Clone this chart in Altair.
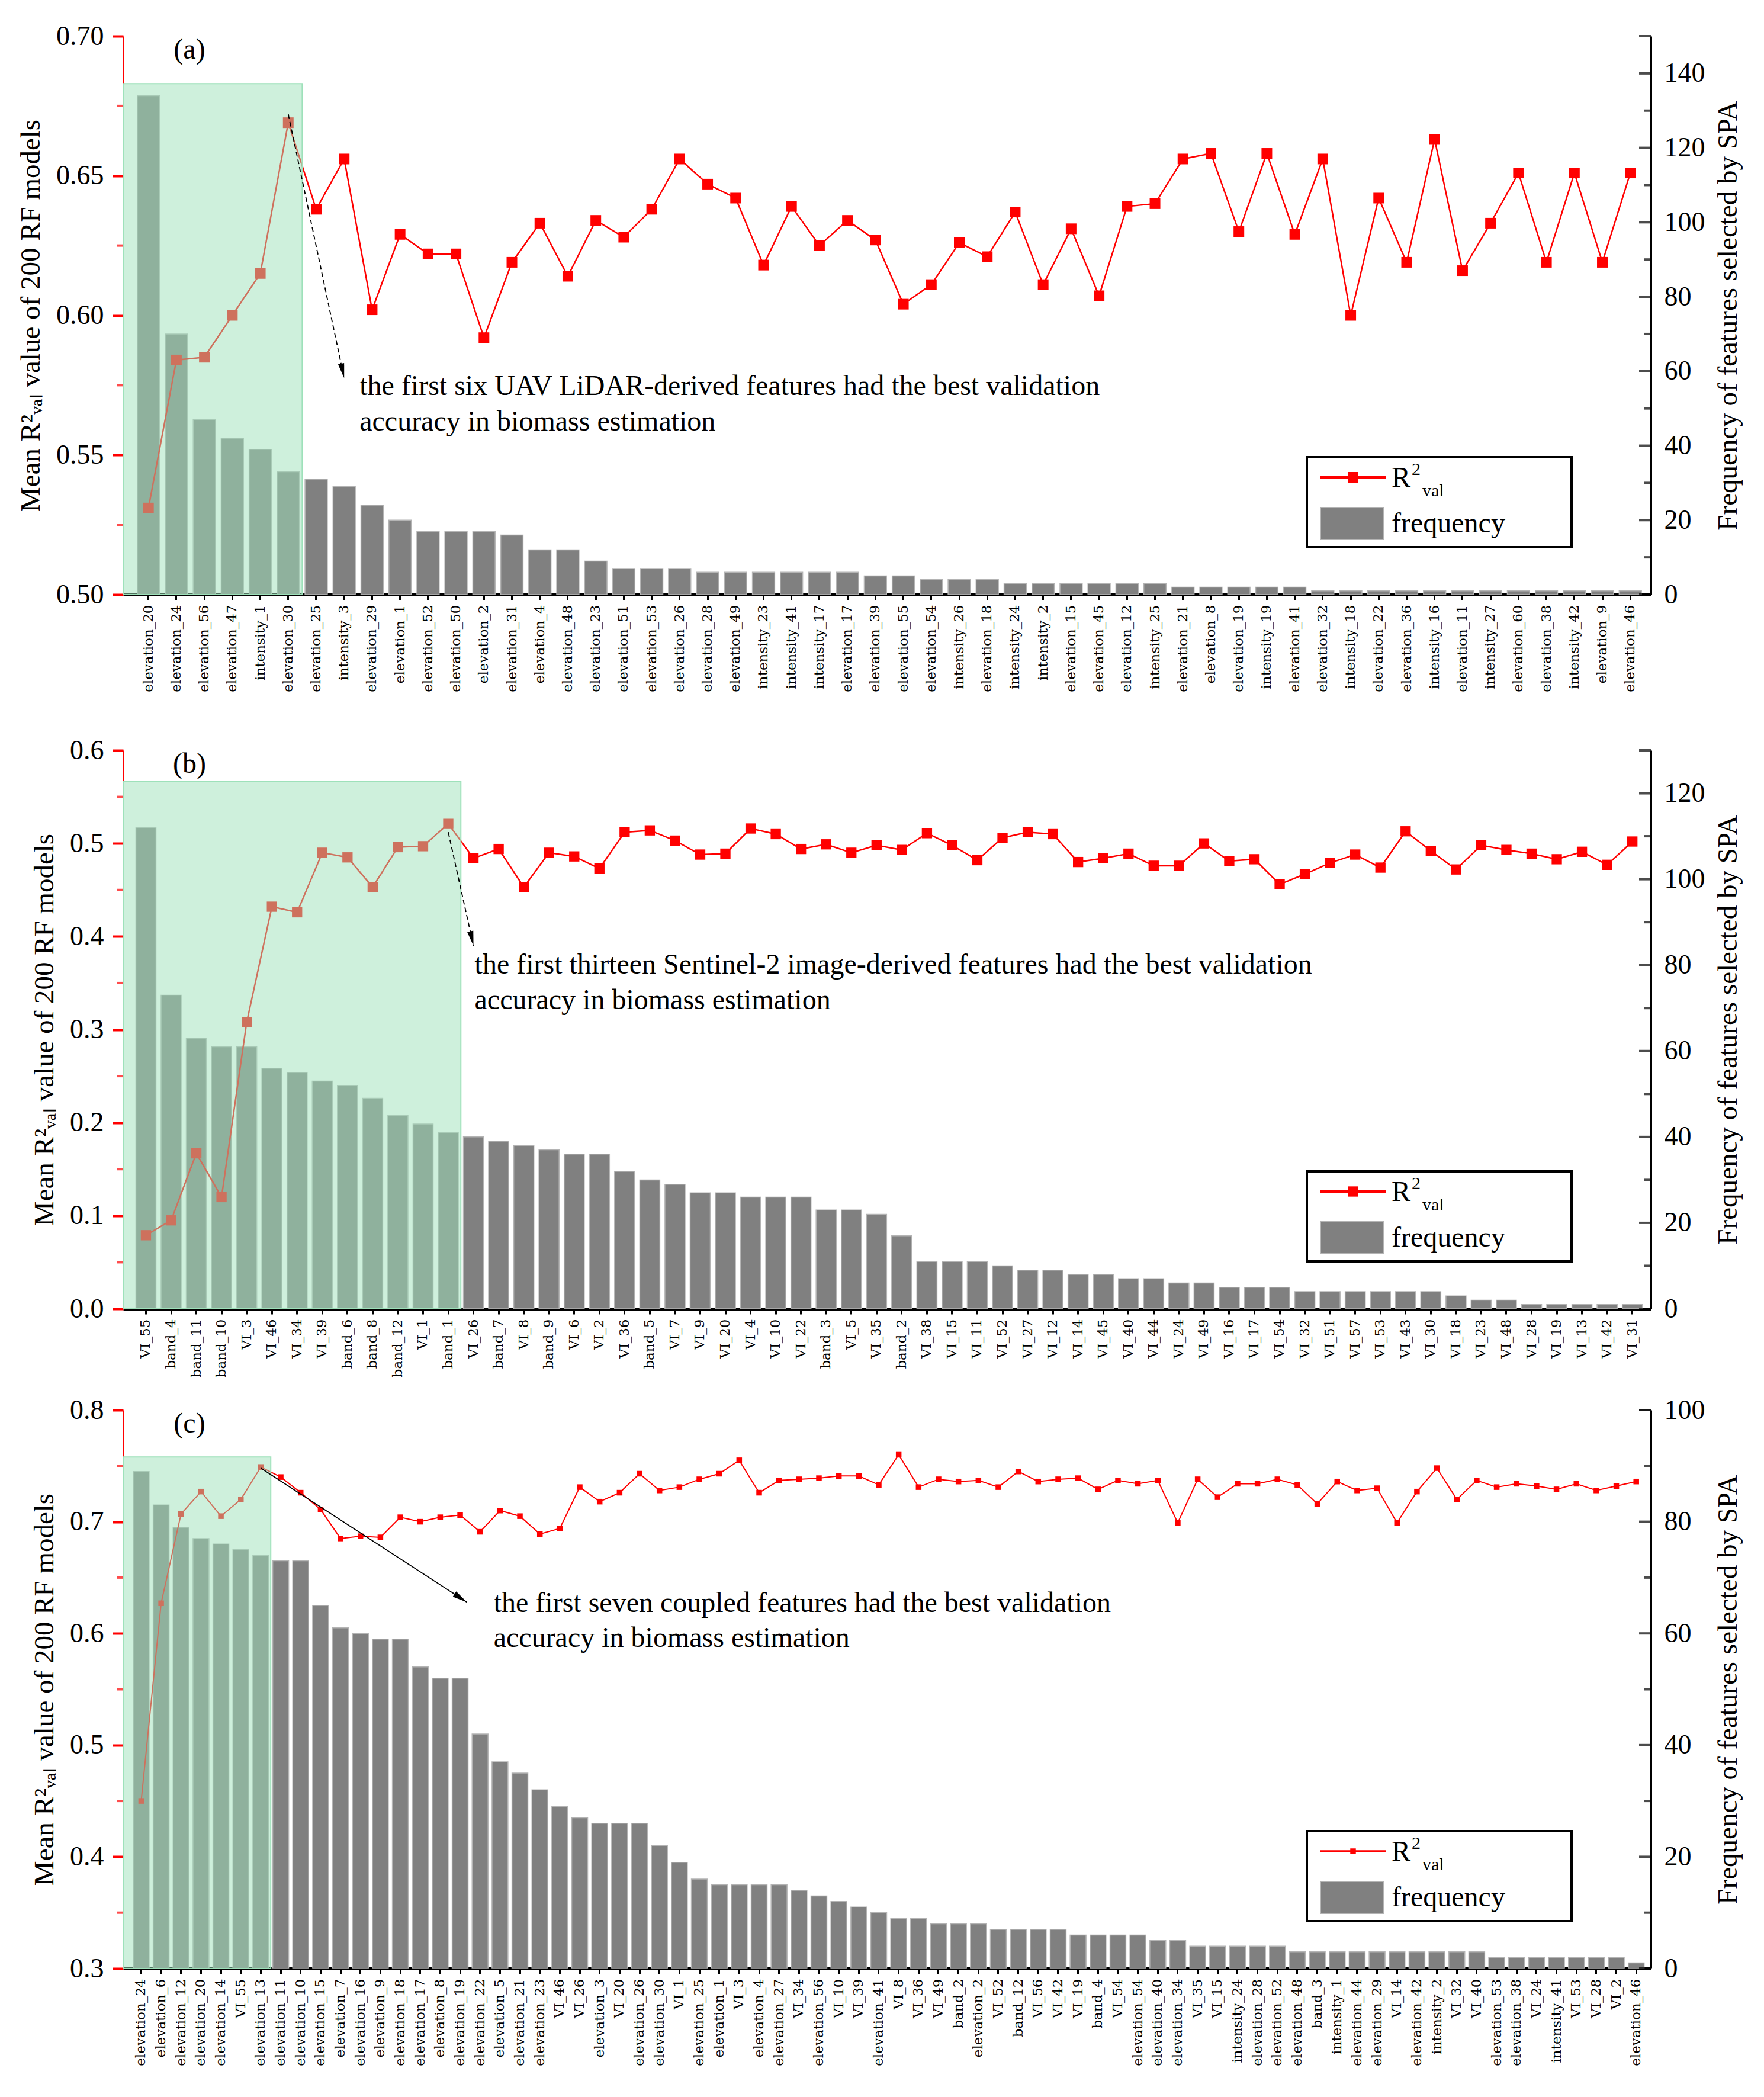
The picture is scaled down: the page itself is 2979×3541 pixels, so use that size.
import altair as alt
import pandas as pd

# ---------------- data ----------------
A_FEATURES = ["elevation_20", "elevation_24", "elevation_56", "elevation_47", "intensity_1", "elevation_30",
              "elevation_25", "intensity_3", "elevation_29", "elevation_1", "elevation_52", "elevation_50",
              "elevation_2", "elevation_31", "elevation_4", "elevation_48", "elevation_23", "elevation_51",
              "elevation_53", "elevation_26", "elevation_28", "elevation_49", "intensity_23", "intensity_41",
              "intensity_17", "elevation_17", "elevation_39", "elevation_55", "elevation_54", "intensity_26",
              "elevation_18", "intensity_24", "intensity_2", "elevation_15", "elevation_45", "elevation_12",
              "intensity_25", "elevation_21", "elevation_8", "elevation_19", "intensity_19", "elevation_41",
              "elevation_32", "intensity_18", "elevation_22", "elevation_36", "intensity_16", "elevation_11",
              "intensity_27", "elevation_60", "elevation_38", "intensity_42", "elevation_9", "elevation_46"]
A_FREQ = [134, 70, 47, 42, 39, 33, 31, 29, 24, 20, 17, 17, 17, 16, 12, 12, 9, 7, 7, 7,
          6, 6, 6, 6, 6, 6, 5, 5, 4, 4, 4, 3, 3, 3, 3, 3, 3, 2, 2, 2,
          2, 2, 1, 1, 1, 1, 1, 1, 1, 1, 1, 1, 1, 1]
A_R2 = [0.531, 0.584, 0.585, 0.600, 0.615, 0.669, 0.638, 0.656, 0.602, 0.629,
        0.622, 0.622, 0.592, 0.619, 0.633, 0.614, 0.634, 0.628, 0.638, 0.656,
        0.647, 0.642, 0.618, 0.639, 0.625, 0.634, 0.627, 0.604, 0.611, 0.626,
        0.621, 0.637, 0.611, 0.631, 0.607, 0.639, 0.640, 0.656, 0.658, 0.630,
        0.658, 0.629, 0.656, 0.600, 0.642, 0.619, 0.663, 0.616, 0.633, 0.651,
        0.619, 0.651, 0.619, 0.651]

B_FEATURES = ["VI_55", "band_4", "band_11", "band_10", "VI_3", "VI_46", "VI_34", "VI_39", "band_6", "band_8",
              "band_12", "VI_1", "band_1", "VI_26", "band_7", "VI_8", "band_9", "VI_6", "VI_2", "VI_36",
              "band_5", "VI_7", "VI_9", "VI_20", "VI_4", "VI_10", "VI_22", "band_3", "VI_5", "VI_35",
              "band_2", "VI_38", "VI_15", "VI_11", "VI_52", "VI_27", "VI_12", "VI_14", "VI_45", "VI_40",
              "VI_44", "VI_24", "VI_49", "VI_16", "VI_17", "VI_54", "VI_32", "VI_51", "VI_57", "VI_53",
              "VI_43", "VI_30", "VI_18", "VI_23", "VI_48", "VI_28", "VI_19", "VI_13", "VI_42", "VI_31"]
B_FREQ = [112, 73, 63, 61, 61, 56, 55, 53, 52, 49, 45, 43, 41, 40, 39, 38, 37, 36, 36, 32,
          30, 29, 27, 27, 26, 26, 26, 23, 23, 22, 17, 11, 11, 11, 10, 9, 9, 8, 8, 7,
          7, 6, 6, 5, 5, 5, 4, 4, 4, 4, 4, 4, 3, 2, 2, 1, 1, 1, 1, 1]
B_R2 = [0.079, 0.095, 0.167, 0.120, 0.308, 0.432, 0.426, 0.490, 0.485, 0.453,
        0.496, 0.497, 0.521, 0.484, 0.494, 0.453, 0.490, 0.486, 0.473, 0.512,
        0.514, 0.503, 0.488, 0.489, 0.516, 0.510, 0.494, 0.499, 0.490, 0.498,
        0.493, 0.511, 0.498, 0.482, 0.506, 0.512, 0.510, 0.480, 0.484, 0.489,
        0.476, 0.476, 0.500, 0.481, 0.483, 0.456, 0.467, 0.479, 0.488, 0.474,
        0.513, 0.492, 0.472, 0.498, 0.493, 0.489, 0.483, 0.491, 0.477, 0.502]

C_FEATURES = ["elevation_24", "elevation_6", "elevation_12", "elevation_20", "elevation_14", "VI_55",
              "elevation_13", "elevation_11", "elevation_10", "elevation_15", "elevation_7", "elevation_16",
              "elevation_9", "elevation_18", "elevation_17", "elevation_8", "elevation_19", "elevation_22",
              "elevation_5", "elevation_21", "elevation_23", "VI_46", "VI_26", "elevation_3", "VI_20",
              "elevation_26", "elevation_30", "VI_1", "elevation_25", "elevation_1", "VI_3", "elevation_4",
              "elevation_27", "VI_34", "elevation_56", "VI_10", "VI_39", "elevation_41", "VI_8", "VI_36",
              "VI_49", "band_2", "elevation_2", "VI_52", "band_12", "VI_56", "VI_42", "VI_19", "band_4",
              "VI_54", "elevation_54", "elevation_40", "elevation_34", "VI_35", "VI_15", "intensity_24",
              "elevation_28", "elevation_52", "elevation_48", "band_3", "intensity_1", "elevation_44",
              "elevation_29", "VI_14", "elevation_42", "intensity_2", "VI_32", "VI_40", "elevation_53",
              "elevation_38", "VI_24", "intensity_41", "VI_53", "VI_28", "VI_2", "elevation_46"]
C_FREQ = [89, 83, 79, 77, 76, 75, 74, 73, 73, 65, 61, 60, 59, 59, 54, 52, 52, 42, 37, 35,
          32, 29, 27, 26, 26, 26, 22, 19, 16, 15, 15, 15, 15, 14, 13, 12, 11, 10, 9, 9,
          8, 8, 8, 7, 7, 7, 7, 6, 6, 6, 6, 5, 5, 4, 4, 4, 4, 4, 3, 3,
          3, 3, 3, 3, 3, 3, 3, 3, 2, 2, 2, 2, 2, 2, 2, 1]
C_R2 = [0.450, 0.627, 0.707, 0.727, 0.705, 0.720, 0.749, 0.740, 0.726, 0.711,
        0.685, 0.687, 0.686, 0.704, 0.700, 0.704, 0.706, 0.691, 0.710, 0.705,
        0.689, 0.694, 0.731, 0.718, 0.726, 0.743, 0.728, 0.731, 0.738, 0.743,
        0.755, 0.726, 0.737, 0.738, 0.739, 0.741, 0.741, 0.733, 0.760, 0.731,
        0.738, 0.736, 0.737, 0.731, 0.745, 0.736, 0.738, 0.739, 0.729, 0.737,
        0.734, 0.737, 0.699, 0.738, 0.722, 0.734, 0.734, 0.738, 0.733, 0.716,
        0.736, 0.728, 0.730, 0.699, 0.727, 0.748, 0.720, 0.737, 0.731, 0.734,
        0.732, 0.729, 0.734, 0.728, 0.732, 0.736]

# axis tick values (major labelled ticks and unlabelled minor ticks)
A_LEFT_MAJOR = [0.50, 0.55, 0.60, 0.65, 0.70]
A_LEFT_MINOR = [0.525, 0.575, 0.625, 0.675]
A_RIGHT_MAJOR = [0, 20, 40, 60, 80, 100, 120, 140]
A_RIGHT_MINOR = [10, 30, 50, 70, 90, 110, 130]
B_LEFT_MAJOR = [0.0, 0.1, 0.2, 0.3, 0.4, 0.5, 0.6]
B_LEFT_MINOR = [0.05, 0.15, 0.25, 0.35, 0.45, 0.55]
B_RIGHT_MAJOR = [0, 20, 40, 60, 80, 100, 120]
B_RIGHT_MINOR = [10, 30, 50, 70, 90, 110]
C_LEFT_MAJOR = [0.3, 0.4, 0.5, 0.6, 0.7, 0.8]
C_LEFT_MINOR = [0.35, 0.45, 0.55, 0.65, 0.75]
C_RIGHT_MAJOR = [0, 20, 40, 60, 80, 100]
C_RIGHT_MINOR = [10, 30, 50, 70, 90]

A_NOTE = ["the first six UAV LiDAR-derived features had the best validation",
          "accuracy in biomass estimation"]
B_NOTE = ["the first thirteen Sentinel-2 image-derived features had the best validation",
          "accuracy in biomass estimation"]
C_NOTE = ["the first seven coupled features had the best validation",
          "accuracy in biomass estimation"]

R2_TITLE = "Mean R²ᵥₐₗ value of 200 RF models"
FREQ_TITLE = "Frequency of features selected by SPA"

# ---------------- style ----------------
W, H = 2580, 943
SERIF = "Liberation Serif"
WIDE = "DejaVu Serif"
GREEN = "#9EE1BA"
GRAY = "#808080"
ONE = pd.DataFrame({"k": [0]})
P_IN, P_OUT, ALIGN = 0.2, 0.42, 0.6


def legend_layers(mk, lw):
    base = alt.Chart(ONE)
    return [
        base.mark_rect(fill="white", stroke="black", strokeWidth=4).encode(
            x=alt.value(1999), x2=alt.value(2446), y=alt.value(711), y2=alt.value(863)),
        base.mark_rule(color="red", strokeWidth=lw + 1.5).encode(
            x=alt.value(2022), x2=alt.value(2132), y=alt.value(745)),
        base.mark_square(color="red", size=mk, opacity=1).encode(
            x=alt.value(2077), y=alt.value(745)),
        base.mark_text(font=SERIF, fontSize=48, align="left", baseline="alphabetic", color="black").encode(
            x=alt.value(2142), y=alt.value(761), text=alt.value("R")),
        base.mark_text(font=SERIF, fontSize=30, align="left", baseline="alphabetic", color="black").encode(
            x=alt.value(2176), y=alt.value(741), text=alt.value("2")),
        base.mark_text(font=SERIF, fontSize=30, align="left", baseline="alphabetic", color="black").encode(
            x=alt.value(2194), y=alt.value(777), text=alt.value("val")),
        base.mark_rect(fill=GRAY, stroke="#b4b4b4", strokeWidth=2).encode(
            x=alt.value(2022), x2=alt.value(2129), y=alt.value(796), y2=alt.value(850)),
        base.mark_text(font=SERIF, fontSize=48, align="left", baseline="alphabetic", color="black").encode(
            x=alt.value(2142), y=alt.value(838), text=alt.value("frequency")),
    ]


def make_panel(feats, freq, r2, letter, ldom, lmaj, lmin, lfmt, rdom, rmaj, rmin, n_hi, rect_top,
               arrow, angle, dashed, note, note_pos, mk, lw):
    df = pd.DataFrame({"feature": feats, "freq": freq, "r2": r2})
    step = W / (len(feats) - P_IN + 2 * P_OUT)
    xscale = alt.Scale(domain=feats, paddingInner=P_IN, paddingOuter=P_OUT, align=ALIGN)
    xaxis = alt.Axis(title=None, labelAngle=270, labelAlign="right", labelBaseline="middle",
                     labelFont=WIDE, labelFontSize=23, labelColor="black", labelPadding=8,
                     labelLimit=600, labelOverlap=False, labelFlush=False,
                     domainColor="black", domainWidth=5, tickColor="black", tickWidth=3,
                     tickSize=9, grid=False)
    yl_scale = alt.Scale(domain=ldom, nice=False, zero=False)
    yl_axis = alt.Axis(orient="left", title=R2_TITLE, values=lmaj, format=lfmt,
                       labelFont=SERIF, labelFontSize=46, labelColor="black", labelPadding=15,
                       domainColor="red", domainWidth=3, tickColor="red", tickWidth=4, tickSize=18,
                       titleFont=SERIF, titleFontSize=47, titleFontWeight="normal", titleColor="black",
                       titlePadding=18, grid=False)
    yr_scale = alt.Scale(domain=rdom, nice=False)
    yr_axis = alt.Axis(orient="right", title=FREQ_TITLE, values=rmaj, format="d",
                       labelFont=SERIF, labelFontSize=46, labelColor="black", labelPadding=22,
                       domainColor="black", domainWidth=3, ticks=False, tickSize=0,
                       titleFont=SERIF, titleFontSize=47, titleFontWeight="normal",
                       titleColor="black", titleAngle=270, titleBaseline="top",
                       titlePadding=16, grid=False)

    def X(field, **kw):
        return alt.X(field, type="nominal", scale=xscale, axis=xaxis, **kw)

    def YL(field):
        return alt.Y(field, type="quantitative", scale=yl_scale, axis=yl_axis)

    def YR(field):
        return alt.Y(field, type="quantitative", scale=yr_scale, axis=yr_axis)

    bars = alt.Chart(df).mark_bar(color=GRAY, stroke="#b4b4b4", strokeWidth=1.5).encode(
        x=X("feature"), y=YR("freq"))
    # inward ticks of the right axis (major and minor)
    rmaj_df = pd.DataFrame({"v": rmaj + [rdom[1]]})
    rmin_df = pd.DataFrame({"v": rmin})
    rticks_maj = alt.Chart(rmaj_df).mark_tick(color="black", orient="horizontal", size=20, thickness=4).encode(
        x=alt.value(W - 10), y=YR("v"))
    rticks_min = alt.Chart(rmin_df).mark_tick(color="black", orient="horizontal", size=11, thickness=4).encode(
        x=alt.value(W - 5.5), y=YR("v"))
    right = alt.layer(bars, rticks_maj, rticks_min)

    line = alt.Chart(df).mark_line(color="red", strokeWidth=lw).encode(x=X("feature"), y=YL("r2"))
    pts = alt.Chart(df).mark_square(color="red", size=mk, opacity=1).encode(x=X("feature"), y=YL("r2"))

    lmin_df = pd.DataFrame({"v": lmin})
    lticks_min = alt.Chart(lmin_df).mark_tick(color="red", orient="horizontal", size=10, thickness=4).encode(
        x=alt.value(-5), y=YL("v"))

    rect_df = pd.DataFrame({"start": [feats[0]], "end": [feats[n_hi - 1]],
                            "top": [rect_top], "bottom": [ldom[0]]})
    left_gap = 2 * P_OUT * ALIGN * step
    rect = alt.Chart(rect_df).mark_rect(fill=GREEN, fillOpacity=0.5, stroke=GREEN, strokeWidth=2,
                                        xOffset=-left_gap, x2Offset=0.5 * P_IN * step).encode(
        x=X("start", bandPosition=0), x2=alt.X2("end", bandPosition=1), y=YL("top"), y2=alt.Y2("bottom"))

    i0, y0, i1, y1, bp = arrow
    arrow_df = pd.DataFrame({"xs": [feats[i0]], "ys": [y0], "xe": [feats[i1]], "ye": [y1]})
    rule_kw = dict(color="black", strokeWidth=1.8)
    if dashed:
        rule_kw["strokeDash"] = [8, 5]
    rule = alt.Chart(arrow_df).mark_rule(**rule_kw).encode(
        x=X("xs", bandPosition=0.5), x2=alt.X2("xe", bandPosition=bp), y=YL("ys"), y2=alt.Y2("ye"))
    head = alt.Chart(arrow_df).mark_point(shape="M-0.42,-2L0.42,-2L0,0Z", filled=True, color="black",
                                          opacity=1, size=625, angle=angle).encode(
        x=X("xe", bandPosition=bp), y=YL("ye"))

    ti, tdx, ty1, ty2 = note_pos
    note_df = pd.DataFrame({"xt": [feats[ti], feats[ti]], "ty": [ty1, ty2], "label": note})
    txt = alt.Chart(note_df).mark_text(align="left", baseline="middle", font=SERIF, fontSize=48,
                                       color="black", dx=tdx).encode(
        x=X("xt"), y=YL("ty"), text="label:N")

    letter_t = alt.Chart(ONE).mark_text(font=SERIF, fontSize=48, color="black", align="center",
                                        baseline="middle").encode(
        x=alt.value(112), y=alt.value(24), text=alt.value(letter))

    left = alt.layer(line, pts, lticks_min, rect, rule, head, txt, letter_t, *legend_layers(mk, lw))
    return alt.layer(right, left).resolve_scale(y="independent").properties(width=W, height=H)


pa = make_panel(A_FEATURES, A_FREQ, A_R2, "(a)", [0.5, 0.7], A_LEFT_MAJOR, A_LEFT_MINOR, ".2f",
                [0, 150], A_RIGHT_MAJOR, A_RIGHT_MINOR, 6, 0.683,
                (5, 0.672, 7, 0.5775, 0.5), 348, True, A_NOTE, (7, 26, 0.5744, 0.5617), 324, 2.5)
pb = make_panel(B_FEATURES, B_FREQ, B_R2, "(b)", [0.0, 0.6], B_LEFT_MAJOR, B_LEFT_MINOR, ".1f",
                [0, 130], B_RIGHT_MAJOR, B_RIGHT_MINOR, 13, 0.5665,
                (12, 0.512, 13, 0.390, 0.5), 347.5, True, B_NOTE, (13, 2, 0.369, 0.331), 300, 2.5)
pc = make_panel(C_FEATURES, C_FREQ, C_R2, "(c)", [0.3, 0.8], C_LEFT_MAJOR, C_LEFT_MINOR, ".1f",
                [0, 100], C_RIGHT_MAJOR, C_RIGHT_MINOR, 7, 0.758,
                (6, 0.748, 16, 0.628, 0.925), 303, False, C_NOTE, (17, 23, 0.6264, 0.5953), 90, 2.0)

chart = alt.vconcat(pa, alt.vconcat(pb, pc, spacing=32), spacing=75).properties(
    padding={"left": 20, "top": 30, "right": 10, "bottom": 10}
).configure_view(strokeWidth=0)

chart.save("out.html", embed_options={"renderer": "svg", "actions": False})
